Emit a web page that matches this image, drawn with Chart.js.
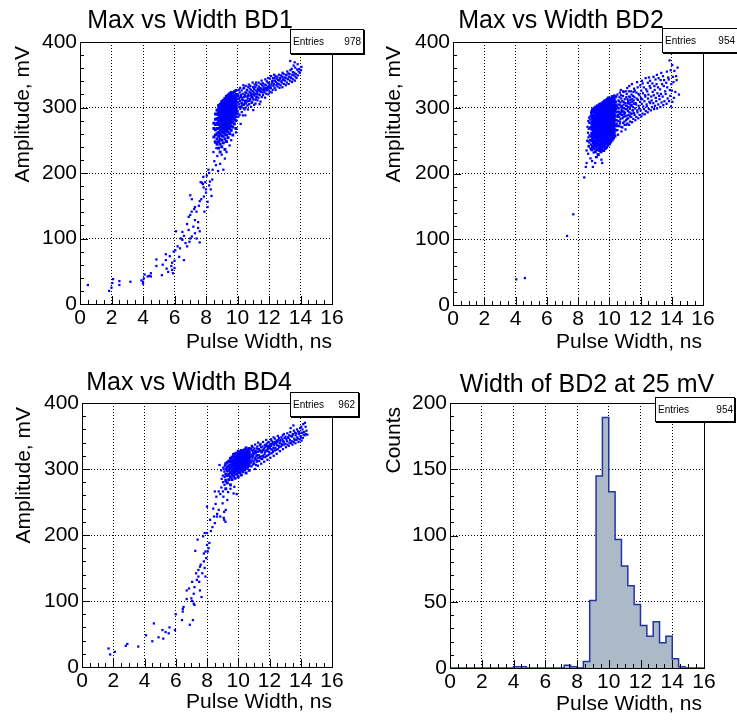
<!DOCTYPE html>
<html>
<head>
<meta charset="utf-8">
<script src="https://cdn.jsdelivr.net/npm/chart.js@4.4.1/dist/chart.umd.min.js"></script>
<style>
html, body { margin: 0; padding: 0; background: #fff; }
#wrap { position: relative; width: 737px; height: 722px; overflow: hidden; }
canvas { position: absolute; }
</style>
</head>
<body>
<div id="wrap">
<canvas id="c1" width="369" height="361" style="left:0;top:0"></canvas>
<canvas id="c2" width="368" height="361" style="left:369px;top:0"></canvas>
<canvas id="c3" width="369" height="361" style="left:0;top:361px"></canvas>
<canvas id="c4" width="368" height="361" style="left:369px;top:361px"></canvas>
</div>
<script>
// BD1: scattered points [ns, mV], dense core columns [ns, [mV...]], upper band [ns, mV]
const bd1Tail = [[0.5,29],[1.85,20],[2.0,25],[2.05,32],[2.1,38],[2.5,29],[2.5,35],[3.2,34],[3.9,36],[4.0,31],[4.0,34],[4.05,39],[4.1,45],[4.3,42],[4.4,43],[4.5,47],[4.5,42],
  [4.85,68],[4.85,58],[5.2,44],[5.25,60],[5.45,67],[5.5,54],[5.45,76],[5.6,49],[5.7,73],[5.8,58],[5.85,63],[5.9,47],[5.95,80],[6.0,66],[6.05,82],[6.0,55],[5.85,52],
  [6.2,88],[6.3,72],[6.4,100],[6.5,98],[6.5,110],[6.6,67],[6.6,104],[6.7,93],[6.8,122],[6.8,88],[6.9,133],[6.9,113],[7.0,136],[7.0,100],[7.1,103],[7.1,160],[7.0,166],
  [7.2,118],[7.3,128],[7.3,108],[7.4,141],[7.5,125],[7.5,116],[7.6,94],[7.6,111],[7.4,100],[6.35,85],[6.95,95],[7.25,145],[6.1,111],
  [7.55,150],[7.6,157],[7.7,160],[7.8,183],[7.9,141],[7.95,186],[8.0,170],[8.05,196],[8.1,156],[8.15,205],[8.2,181],[8.3,175],[8.25,187],[8.2,200],[8.35,165],
  [8.4,190],[7.75,185],[7.85,178],[8.1,148],[7.66,186],[7.83,194],[7.87,164],[8.0,175],[7.3,148],[7.09,141],
  [9.2,222],[9.3,232],[9.5,242],[9.6,250],[9.9,262],[10.2,275],[10.5,288],[11.0,296],[11.4,305],[9.1,205],[8.9,214],[9.0,228],
  [8.42,205],[8.47,232],[8.53,218],[8.56,248],[8.63,212],[8.66,238],[8.72,226],[8.77,203]];
const bd1Cloud = [
  [8.5,[255,268,276]],[8.6,[247,258,266,274,282,290]],
  [8.7,[244,252,260,268,276,283,290,296]],[8.8,[238,248,256,262,268,274,279,284,289,293,298,303]],
  [8.9,[232,244,252,259,265,270,275,280,284,288,292,296,300,305]],[9.0,[240,250,257,263,268,272,276,280,283,286,289,292,295,298,301,305,309]],
  [9.1,[246,256,262,267,271,275,278,281,284,287,290,293,296,299,302,306,311]],[9.2,[236,252,260,265,269,273,276,279,282,285,288,290,293,296,298,301,304,307,310,314]],
  [9.3,[248,258,264,268,272,275,278,281,284,286,289,291,294,296,299,302,305,308,312,317]],[9.4,[254,263,268,272,276,279,282,285,287,290,292,294,297,299,302,305,308,311,315,319]],
  [9.5,[260,268,273,277,281,284,287,290,292,294,297,299,301,304,307,310,313,317,321]],[9.6,[265,272,277,281,285,288,291,293,296,298,300,302,305,308,311,315,319,323]],
  [9.7,[258,270,278,283,287,290,293,296,298,300,302,304,307,310,313,317,322]],[9.8,[275,282,287,291,294,297,299,301,303,305,308,311,314,318,324]],
  [9.9,[268,280,286,291,295,298,301,303,305,307,310,313,316,320,326]]];
const bd1Band = [[10.06,286],[10.01,295],[10.09,301],[10.04,308],[10.07,313],[10.02,320],[10.08,327],[10.03,291],[10.05,317],
  [10.13,289],[10.18,298],[10.11,305],[10.16,310],[10.19,318],[10.14,323],[10.12,314],[10.17,330],
  [10.27,293],[10.21,301],[10.25,307],[10.29,312],[10.23,319],[10.26,326],[10.22,316],[10.28,303],
  [10.34,288],[10.39,299],[10.31,306],[10.36,311],[10.33,321],[10.38,329],[10.32,315],[10.37,334],
  [10.45,297],[10.41,304],[10.48,310],[10.43,316],[10.49,323],[10.46,319],[10.42,330],[10.47,307],
  [10.53,300],[10.58,311],[10.51,317],[10.56,322],[10.54,306],[10.59,327],[10.52,333],
  [10.67,297],[10.62,309],[10.65,314],[10.69,320],[10.61,326],[10.64,303],[10.68,331],[10.63,317],
  [10.74,305],[10.79,313],[10.71,318],[10.76,324],[10.73,310],[10.78,329],[10.72,335],
  [10.86,301],[10.81,311],[10.88,316],[10.83,322],[10.85,327],[10.89,307],[10.82,333],[10.87,319],
  [10.93,308],[10.97,314],[10.91,320],[10.95,325],[10.99,331],[10.92,316],[10.96,338],
  [11.06,304],[11.01,312],[11.08,318],[11.03,323],[11.05,328],[11.09,335],[11.02,320],
  [11.14,306],[11.19,315],[11.11,321],[11.16,326],[11.13,331],[11.18,338],[11.15,312],
  [11.27,311],[11.22,317],[11.25,324],[11.29,329],[11.21,334],[11.24,321],
  [11.33,315],[11.38,320],[11.31,327],[11.36,332],[11.34,338],[11.39,325],
  [11.46,309],[11.41,319],[11.48,324],[11.43,330],[11.47,336],[11.42,327],
  [11.54,316],[11.59,323],[11.51,329],[11.56,334],[11.53,341],[11.58,327],
  [11.62,319],[11.68,326],[11.65,332],[11.61,337],[11.67,329],
  [11.75,315],[11.71,323],[11.78,330],[11.73,335],[11.77,343],[11.72,327],
  [11.83,321],[11.88,329],[11.81,334],[11.86,340],[11.84,326],
  [11.96,320],[11.91,327],[11.98,333],[11.93,338],[11.95,345],[11.92,331],
  [12.04,324],[12.09,332],[12.01,337],[12.06,344],[12.03,329],
  [12.17,323],[12.12,330],[12.15,335],[12.19,340],[12.13,348],
  [12.23,327],[12.28,333],[12.21,338],[12.26,345],[12.24,341],
  [12.36,330],[12.31,336],[12.38,341],[12.33,350],[12.35,345],
  [12.42,327],[12.47,334],[12.44,339],[12.49,344],[12.41,348],
  [12.55,332],[12.51,337],[12.58,342],[12.53,347],
  [12.67,330],[12.62,336],[12.65,341],[12.69,345],[12.63,350],
  [12.73,334],[12.78,340],[12.71,344],[12.76,349],
  [12.85,331],[12.81,338],[12.88,343],[12.83,347],[12.86,353],
  [12.94,336],[12.91,342],[12.97,346],[12.93,351],
  [13.07,334],[13.02,341],[13.05,345],[13.09,350],
  [13.13,338],[13.18,344],[13.11,349],[13.16,355],
  [13.25,336],[13.21,343],[13.28,347],[13.23,352],
  [13.34,341],[13.38,346],[13.31,351],[13.36,357],[13.35,371],
  [13.46,339],[13.42,345],[13.48,350],[13.44,359],
  [13.53,343],[13.57,349],[13.51,354],[13.56,364],
  [13.64,341],[13.68,347],[13.61,353],[13.66,361],[13.63,369],
  [13.75,345],[13.71,351],[13.78,358],
  [13.84,349],[13.88,355],[13.82,366],
  [13.96,353],[13.92,359],[14.03,357],[14.06,362]];

// BD2
const bd2Tail = [[4.05,39],[4.6,41],[7.3,105],[7.7,138],[8.4,194],[8.5,210],[8.55,216],[8.65,230],[8.8,223],[8.95,210],[9.2,225],[9.55,216],
  [8.55,235],[8.7,242],[8.6,250],[8.85,238],[9.0,232],[9.3,228],[9.5,235],[9.75,239],[10.1,249],[10.2,262],[9.1,216],[9.15,225],[8.9,219],[9.5,221],
  [8.62,249],[8.64,262],[8.61,271],[8.68,241],[8.67,255],[8.69,268],[8.66,280],[8.73,247],[8.74,258],[8.72,277],[8.71,285],
  [8.79,238],[8.78,251],[8.77,270],[8.79,282],[8.81,288],[8.84,244],[8.83,256],[8.85,267],[8.86,279],[8.84,292]];
const bd2Cloud = [
  [8.88,[236,250,261,271,276,286,294]],[8.93,[241,252,259,268,275,284,289,297]],
  [8.97,[246,255,265,271,280,285,294]],[9.02,[238,249,258,267,273,282,287,299]],[9.06,[243,254,262,269,277,284,292,296]],
  [9.11,[233,247,256,265,271,280,287,294,301]],[9.15,[240,250,260,268,274,283,289,298]],[9.2,[236,246,255,262,271,277,285,292,300]],
  [9.24,[242,251,258,267,273,281,288,295,303]],[9.29,[229,245,254,263,269,276,284,290,298]],[9.33,[238,249,257,265,272,279,287,293,301]],
  [9.38,[235,244,252,261,268,276,282,290,296,305]],[9.42,[240,251,259,266,274,281,286,294,302]],[9.47,[233,247,255,262,270,278,284,291,299,306]],
  [9.51,[239,248,258,265,272,279,287,293,300]],[9.56,[236,244,253,260,268,275,283,289,297,304]],[9.6,[241,250,257,266,273,280,286,294,301,308]],
  [9.65,[235,246,255,263,269,277,284,291,298,305]],[9.69,[243,252,261,267,275,281,289,295,302,310]],[9.74,[238,248,257,264,271,279,285,292,300,306]],
  [9.78,[245,253,262,268,276,283,290,297,304,311]],[9.83,[240,251,258,266,273,280,288,294,301,308]],[9.87,[247,256,263,271,277,284,292,298,305,313]],
  [9.92,[243,252,261,268,275,282,288,296,303,310]],[9.96,[249,258,265,273,280,287,293,301,308,315]],[10.01,[245,255,262,270,277,285,291,298,305,312]],
  [10.05,[252,260,268,274,282,289,296,303,310]],[10.1,[248,257,265,273,279,286,293,300,307,314]],[10.14,[255,262,270,277,284,291,299,305,312]],
  [10.19,[251,260,267,275,282,289,296,304,310,317]],[10.23,[258,265,273,280,287,294,301,308,315]],[10.28,[254,263,270,278,285,292,299,306,313]],
  [10.32,[261,268,276,283,290,297,304,311,318]],[10.37,[257,266,273,281,288,295,302,309,316]]];
const bd2Band = [[10.43,266],[10.48,276],[10.41,287],[10.46,293],[10.49,302],[10.42,309],[10.45,317],[10.47,281],[10.44,298],[10.49,272],[10.42,305],
  [10.56,259],[10.51,273],[10.58,280],[10.53,294],[10.55,300],[10.59,311],[10.52,320],[10.57,289],[10.54,286],[10.58,305],[10.52,266],
  [10.62,272],[10.69,279],[10.64,286],[10.61,299],[10.67,304],[10.65,316],[10.68,323],[10.63,294],[10.66,291],[10.62,310],[10.68,276],
  [10.78,264],[10.72,283],[10.75,290],[10.79,297],[10.71,308],[10.77,314],[10.74,327],[10.76,301],[10.73,293],[10.77,271],[10.75,319],
  [10.84,270],[10.89,277],[10.81,289],[10.86,300],[10.83,310],[10.88,318],[10.82,295],[10.85,284],[10.82,303],[10.87,294],[10.89,325],
  [10.97,279],[10.91,286],[10.95,294],[10.93,305],[10.99,313],[10.92,324],[10.96,299],[10.94,290],[10.98,274],[10.92,309],
  [11.04,267],[11.08,281],[11.01,292],[11.06,298],[11.03,307],[11.09,316],[11.05,325],[11.02,287],[11.07,303],[11.09,274],
  [11.16,276],[11.11,288],[11.19,295],[11.13,303],[11.17,313],[11.12,321],[11.15,330],[11.14,283],[11.18,307],[11.12,298],
  [11.27,274],[11.22,284],[11.29,293],[11.24,301],[11.21,310],[11.26,317],[11.28,333],[11.23,289],[11.28,306],[11.25,325],
  [11.33,279],[11.38,291],[11.31,298],[11.36,308],[11.34,316],[11.39,325],[11.32,287],[11.37,303],[11.35,312],
  [11.46,278],[11.41,286],[11.49,296],[11.43,304],[11.47,313],[11.42,320],[11.45,336],[11.44,291],[11.48,309],
  [11.54,283],[11.58,292],[11.51,301],[11.56,311],[11.53,318],[11.59,329],[11.52,296],[11.57,306],[11.55,324],
  [11.67,281],[11.62,289],[11.65,299],[11.69,307],[11.61,316],[11.64,326],
  [11.73,286],[11.79,296],[11.71,305],[11.76,314],[11.74,323],[11.78,339],
  [11.86,284],[11.81,293],[11.88,303],[11.83,312],[11.87,321],[11.82,331],
  [11.94,289],[11.91,299],[11.97,309],[11.93,319],[11.99,334],
  [12.06,287],[12.01,296],[12.08,306],[12.03,315],[12.05,326],[12.09,341],
  [12.13,291],[12.18,302],[12.11,313],[12.16,322],[12.14,337],
  [12.27,290],[12.22,298],[12.25,310],[12.29,319],[12.21,331],
  [12.34,295],[12.39,305],[12.31,317],[12.36,328],[12.33,345],
  [12.46,293],[12.41,302],[12.48,314],[12.43,325],[12.47,338],
  [12.53,298],[12.57,309],[12.51,320],[12.59,333],[12.54,346],
  [12.66,296],[12.62,307],[12.69,317],[12.64,330],[12.61,341],
  [12.74,301],[12.71,311],[12.78,324],[12.76,337],
  [12.87,298],[12.82,307],[12.85,319],[12.89,333],[12.83,347],
  [12.93,303],[12.98,315],[12.91,327],[12.96,343],
  [13.06,299],[13.01,310],[13.08,322],[13.03,336],[13.05,350],
  [13.14,305],[13.19,318],[13.12,331],[13.16,345],
  [13.27,301],[13.22,313],[13.25,328],[13.29,342],
  [13.35,308],[13.31,321],[13.38,336],[13.33,353],
  [13.46,304],[13.42,317],[13.49,333],[13.44,348],
  [13.53,310],[13.58,325],[13.51,342],
  [13.67,306],[13.61,321],[13.65,338],[13.69,355],
  [13.74,314],[13.71,331],[13.77,346],
  [13.83,310],[13.88,327],[13.81,343],[13.86,372],
  [13.95,302],[13.91,318],[13.97,336],[13.93,357],
  [14.04,309],[14.01,326],[14.07,347],[14.03,365],
  [14.14,315],[14.11,339],[14.17,356],
  [14.23,324],[14.28,348],[14.31,342],[14.37,361],[14.46,320]];

// BD4
const bd4Tail = [[1.7,28],[1.8,19],[2.1,23],[2.8,32],[2.9,35],[3.6,31],[4.1,48],[4.5,39],[4.6,66],[4.9,45],[5.15,56],[5.2,43],[5.35,53],[5.6,60],[5.55,51],[5.95,56],
  [6.0,80],[6.4,71],[6.45,84],[6.45,88],[6.5,91],[6.9,64],[7.1,71],[6.7,103],[7.0,104],[6.7,116],[6.85,119],[7.05,129],[7.15,111],[7.2,94],[7.35,132],[7.45,137],
  [7.55,152],[7.7,142],[7.8,160],[7.9,137],[7.65,106],[7.55,116],[7.15,96],[7.3,142],[7.45,147],[7.5,129],[7.2,121],[7.05,100],[7.25,176],[7.4,193],[7.8,172],
  [7.9,175],[7.75,198],[7.85,203],[7.6,155],[8.0,185],[8.05,175],[8.1,180],[7.95,165],[7.85,150],
  [8.0,243],[8.2,223],[8.45,228],[8.0,203],[8.25,206],[8.15,188],[8.5,218],[8.75,238],[8.85,228],[9.0,248],[9.1,235],[9.3,253],[9.1,223],[8.6,258],[8.75,266],
  [8.85,262],[9.2,281],[9.7,263],[9.9,262],[8.8,306],[9.75,273],[8.4,240],[8.55,247],[8.35,212],[8.65,232],[9.35,265],[9.5,270],[9.05,258],[8.5,266],[8.64,228],
  [9.07,226],[9.18,220],[9.2,238],[8.92,272],[8.94,285],[8.91,298],[9.02,266],[9.03,280],[9.01,290],[9.04,302],[9.12,276],[9.13,288],[9.11,296],[9.14,305]];
const bd4Cloud = [
  [9.2,[270,283,292,300,308]],[9.3,[279,290,297,303,310]],
  [9.4,[284,292,299,305,312]],[9.5,[276,288,295,301,306,311,316]],[9.6,[284,292,298,303,308,313,318]],[9.7,[289,295,300,305,309,313,318,322]],
  [9.8,[286,293,298,302,306,310,314,318,323]],[9.9,[292,297,301,305,308,311,315,319,324]],[10.0,[288,295,300,303,306,309,312,315,318,322,327]],
  [10.1,[294,299,303,306,309,312,315,318,321,325]],[10.2,[291,298,302,305,308,311,314,317,320,323,328]],[10.3,[296,301,305,308,311,314,317,320,323,327]],
  [10.4,[299,303,306,309,312,315,318,321,324,329]],[10.5,[294,301,305,309,312,315,318,321,324,327,332]],[10.6,[303,307,310,313,316,319,322,325,329]],
  [10.7,[298,305,309,312,315,318,321,324,327,331]]];
const bd4Band = [[10.85,304],[10.81,310],[10.88,313],[10.83,319],[10.86,322],[10.89,328],[10.82,331],[10.87,335],
  [10.93,307],[10.98,311],[10.91,317],[10.96,320],[10.94,325],[10.99,329],[10.92,333],
  [11.07,300],[11.02,308],[11.05,314],[11.09,317],[11.01,323],[11.06,326],[11.04,331],[11.08,337],
  [11.13,306],[11.18,311],[11.11,316],[11.16,320],[11.14,327],[11.19,331],[11.12,324],
  [11.26,305],[11.21,313],[11.28,317],[11.23,321],[11.25,326],[11.29,330],[11.22,334],[11.27,340],
  [11.34,312],[11.39,318],[11.31,321],[11.36,327],[11.33,330],[11.38,336],
  [11.47,308],[11.42,316],[11.45,319],[11.49,325],[11.41,328],[11.46,333],[11.43,338],
  [11.53,315],[11.58,320],[11.51,326],[11.56,329],[11.54,334],[11.59,341],
  [11.66,311],[11.61,318],[11.68,322],[11.63,328],[11.65,331],[11.69,336],
  [11.74,318],[11.71,325],[11.78,328],[11.73,333],[11.76,337],[11.79,344],
  [11.87,314],[11.82,320],[11.85,327],[11.89,330],[11.83,335],[11.86,339],
  [11.93,321],[11.98,326],[11.91,332],[11.96,335],[11.94,341],
  [12.06,317],[12.01,323],[12.08,330],[12.03,333],[12.05,338],[12.09,345],
  [12.14,324],[12.19,329],[12.11,335],[12.16,338],[12.13,343],
  [12.27,320],[12.22,326],[12.25,332],[12.29,336],[12.21,341],[12.26,348],
  [12.33,328],[12.38,332],[12.31,338],[12.36,341],[12.34,346],
  [12.46,323],[12.41,329],[12.48,336],[12.43,339],[12.45,343],
  [12.54,330],[12.59,335],[12.51,341],[12.56,344],[12.53,350],
  [12.67,327],[12.62,333],[12.65,339],[12.69,342],[12.61,347],
  [12.73,334],[12.78,338],[12.71,344],[12.76,348],
  [12.86,330],[12.81,336],[12.88,342],[12.83,345],[12.85,351],
  [12.94,337],[12.91,341],[12.97,347],[12.92,353],
  [13.05,333],[13.01,338],[13.08,345],[13.03,349],
  [13.16,337],[13.12,342],[13.19,348],[13.14,354],
  [13.23,335],[13.28,340],[13.21,347],[13.26,351],
  [13.36,339],[13.31,344],[13.38,350],[13.33,356],[13.35,362],
  [13.47,337],[13.42,342],[13.45,349],[13.49,353],
  [13.54,341],[13.59,346],[13.51,352],[13.56,358],[13.53,366],
  [13.66,339],[13.61,344],[13.68,351],[13.63,355],
  [13.73,344],[13.78,348],[13.71,354],[13.76,360],
  [13.86,341],[13.81,346],[13.88,353],[13.83,357],
  [13.94,345],[13.99,350],[13.91,356],[13.96,362],
  [14.05,343],[14.01,348],[14.08,355],[14.03,364],
  [14.13,347],[14.18,352],[14.11,360],[14.16,368],
  [14.24,351],[14.21,356],[14.27,370],[14.33,353],[14.36,358],[14.31,364],[14.42,352]];

// Width of BD2 at 25 mV: bin low edges (ns) and counts
const binLow = [0,0.4,0.8,1.2,1.6,2.0,2.4,2.8,3.2,3.6,4.0,4.4,4.8,5.2,5.6,6.0,6.4,6.8,7.2,7.6,
  8.0,8.4,8.8,9.2,9.6,10.0,10.4,10.8,11.2,11.6,12.0,12.4,12.8,13.2,13.6,14.0,14.4,14.8,15.2,15.6];
const counts = [0,0,0,0,0,0,0,0,0,0,1,1,0,0,0,0,0,0,2,1,
  0,5,51,145,189,133,97,77,62,48,32,24,35,19,24,7,1,0,0,0];

const FONT = '"Liberation Sans", Arial, Helvetica, sans-serif';

const pairs = list => list.map(p => ({ x: p[0], y: p[1] }));
const columns = list => list.flatMap(c => c[1].map(v => ({ x: c[0], y: v })));

const rootFrame = {
  id: 'rootFrame',
  afterDatasetsDraw(chart, args, o) {
    const { ctx, chartArea: a, scales: { x, y } } = chart;
    ctx.save();
    ctx.strokeStyle = '#000';
    ctx.lineWidth = 1;
    ctx.beginPath();
    for (let i = 0; i <= Math.round((x.max - x.min) / o.xMinor); i++) {
      const px = Math.round(x.getPixelForValue(x.min + i * o.xMinor)) + 0.5;
      const len = i % Math.round(o.xMajor / o.xMinor) === 0 ? 8 : 4;
      ctx.moveTo(px, a.bottom); ctx.lineTo(px, a.bottom - len);
    }
    for (let i = 0; i <= Math.round((y.max - y.min) / o.yMinor); i++) {
      const py = Math.round(y.getPixelForValue(y.min + i * o.yMinor)) + 0.5;
      const len = i % Math.round(o.yMajor / o.yMinor) === 0 ? 8 : 4;
      ctx.moveTo(a.left, py); ctx.lineTo(a.left + len, py);
    }
    ctx.stroke();
    ctx.strokeRect(Math.round(a.left) + 0.5, Math.round(a.top) + 0.5, Math.round(a.right - a.left), Math.round(a.bottom - a.top));

    ctx.fillStyle = '#000';
    ctx.font = '25px ' + FONT;
    ctx.textAlign = 'center';
    ctx.textBaseline = 'alphabetic';
    ctx.fillText(o.title, o.tx, o.ty);

    ctx.font = '21px ' + FONT;
    ctx.textAlign = 'right';
    ctx.fillText(o.xTitle, o.xx, o.xy);
    ctx.save();
    ctx.translate(o.yx, o.yy);
    ctx.rotate(-Math.PI / 2);
    ctx.fillText(o.yTitle, 0, 0);
    ctx.restore();

    const [bx, by, bw, bh] = o.box;
    ctx.fillStyle = '#000';
    ctx.fillRect(bx + 1, by + 1, bw, bh);
    ctx.fillStyle = '#fff';
    ctx.fillRect(bx, by, bw, bh);
    ctx.strokeRect(bx + 0.5, by + 0.5, bw - 1, bh - 1);
    ctx.fillStyle = '#000';
    ctx.font = '10px ' + FONT;
    ctx.textBaseline = 'middle';
    ctx.textAlign = 'left';
    ctx.fillText('Entries', bx + 3, by + bh / 2 + 1);
    ctx.textAlign = 'right';
    ctx.fillText(o.entries, o.valRight, by + bh / 2 + 1);
    ctx.restore();
  }
};

function axes(area, h, yMax, yStep) {
  return {
    x: {
      type: 'linear', min: 0, max: 16,
      afterFit: s => { s.height = h - area[3]; },
      grid: { color: '#000', lineWidth: 1, drawTicks: false },
      border: { display: false, dash: [1, 2] },
      ticks: { stepSize: 2, autoSkip: false, maxRotation: 0, padding: 4, color: '#000', font: { family: FONT, size: 21, lineHeight: 1 } }
    },
    y: {
      type: 'linear', min: 0, max: yMax,
      afterFit: s => { s.width = area[0]; },
      grid: { color: '#000', lineWidth: 1, drawTicks: false },
      border: { display: false, dash: [1, 2] },
      ticks: { stepSize: yStep, autoSkip: false, padding: 3, color: '#000', font: { family: FONT, size: 21, lineHeight: 1 } }
    }
  };
}

function panel(id, datasets, type, p) {
  const cv = document.getElementById(id);
  const a = p.area;
  new Chart(cv, {
    type: type,
    data: { datasets: datasets },
    plugins: [rootFrame],
    options: {
      responsive: false,
      animation: false,
      devicePixelRatio: 1,
      events: [],
      layout: { padding: { left: 0, top: a[1], right: cv.width - a[2], bottom: 0 } },
      scales: axes(a, cv.height, p.yMax, p.yStep),
      plugins: {
        legend: { display: false },
        tooltip: { enabled: false },
        rootFrame: Object.assign({ xMajor: 2, xMinor: 0.5, yMajor: p.yStep, yMinor: p.yStep / 5 }, p)
      }
    }
  });
}

function scatterSets(tail, core, band) {
  const style = r => ({ pointStyle: 'rect', pointRadius: r, borderWidth: 0, backgroundColor: '#0000ff', showLine: false });
  return [
    Object.assign({ data: pairs(tail).concat(pairs(band)) }, style(1.6)),
    Object.assign({ data: columns(core) }, style(2.1))
  ];
}

const xTitle = 'Pulse Width, ns';

panel('c1', scatterSets(bd1Tail, bd1Cloud, bd1Band), 'scatter', {
  area: [80, 42, 332, 304], yMax: 400, yStep: 100,
  title: 'Max vs Width BD1', tx: 190, ty: 28,
  yTitle: 'Amplitude, mV', yx: 29, yy: 46, xTitle: xTitle, xx: 332, xy: 348,
  box: [290, 29, 74, 25], entries: '978', valRight: 361
});

panel('c2', scatterSets(bd2Tail, bd2Cloud, bd2Band), 'scatter', {
  area: [84, 42, 334, 305], yMax: 400, yStep: 100,
  title: 'Max vs Width BD2', tx: 192, ty: 28,
  yTitle: 'Amplitude, mV', yx: 31, yy: 46, xTitle: xTitle, xx: 333, xy: 348,
  box: [293, 28, 80, 25], entries: '954', valRight: 366
});

panel('c3', scatterSets(bd4Tail, bd4Cloud, bd4Band), 'scatter', {
  area: [82, 42, 332, 306], yMax: 400, yStep: 100,
  title: 'Max vs Width BD4', tx: 189, ty: 29,
  yTitle: 'Amplitude, mV', yx: 30, yy: 46, xTitle: xTitle, xx: 332, xy: 347,
  box: [290, 31, 69, 25], entries: '962', valRight: 355
});

const histPts = binLow.map((x, i) => ({ x: x, y: counts[i] }));
histPts.push({ x: 16, y: 0 });

panel('c4', [{
  data: histPts,
  stepped: true,
  fill: 'origin',
  backgroundColor: '#abbac6',
  borderColor: '#2233aa',
  borderWidth: 1.5,
  pointRadius: 0
}], 'line', {
  area: [81, 42, 335, 307], yMax: 200, yStep: 50,
  title: 'Width of BD2 at 25 mV', tx: 218, ty: 31,
  yTitle: 'Counts', yx: 31, yy: 46, xTitle: xTitle, xx: 333, xy: 349,
  box: [286, 36, 80, 25], entries: '954', valRight: 364
});
</script>
</body>
</html>
